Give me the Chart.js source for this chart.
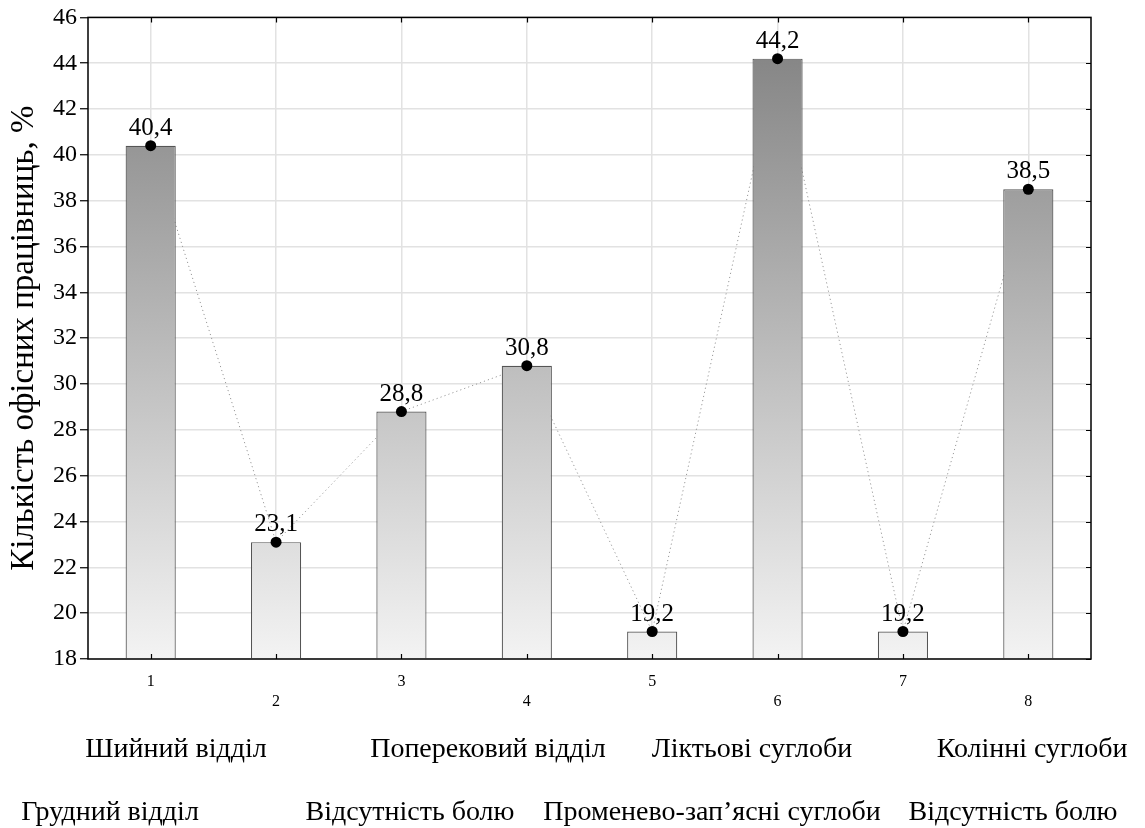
<!DOCTYPE html>
<html>
<head>
<meta charset="utf-8">
<script src="https://cdn.jsdelivr.net/npm/chart.js@4.4.1/dist/chart.umd.min.js"></script>
<style>
html,body{margin:0;padding:0;background:#ffffff;}
#wrap{width:1145px;height:828px;position:relative;}
canvas{display:block;}
</style>
</head>
<body>
<div id="wrap"><canvas id="c" width="1145" height="828"></canvas></div>
<script>
// ---------- data ----------
const categories = [
  'Шийний відділ',
  'Грудний відділ',
  'Поперековий відділ',
  'Відсутність болю',
  'Ліктьові суглоби',
  'Променево-зап’ясні суглоби',
  'Колінні суглоби',
  'Відсутність болю'
];
const tickLabels = ['1', '2', '3', '4', '5', '6', '7', '8'];
const values = [40.4, 23.1, 28.8, 30.8, 19.2, 44.2, 19.2, 38.5];
const valueLabels = ['40,4', '23,1', '28,8', '30,8', '19,2', '44,2', '19,2', '38,5'];
const yMin = 18;
const yMax = 46;
const yStep = 2;
const yTitle = 'Кількість офісних працівниць, %';

// ---------- layout / style ----------
const SERIF = '"Liberation Serif", "Times New Roman", serif';
// centre x of each category caption under the axis (two staggered rows)
const captionLayout = [
  {x: 176, y: 750}, {x: 110, y: 813},
  {x: 488, y: 750}, {x: 410, y: 813},
  {x: 752, y: 750}, {x: 712, y: 813},
  {x: 1032, y: 750}, {x: 1013, y: 813}
];

const framePlugin = {
  id: 'framePlugin',
  afterDatasetsDraw(chart) {
    const ctx = chart.ctx;
    const meta = chart.getDatasetMeta(2);
    ctx.save();
    ctx.fillStyle = '#000';
    ctx.font = '25px ' + SERIF;
    ctx.textAlign = 'center';
    ctx.textBaseline = 'alphabetic';
    meta.data.forEach((pt, i) => {
      ctx.fillText(valueLabels[i], pt.x, pt.y - 11);
    });
    ctx.restore();
  },
  afterDraw(chart) {
    const ctx = chart.ctx;
    const a = chart.chartArea;
    const xs = chart.scales.x;
    const ys = chart.scales.y;
    ctx.save();
    ctx.strokeStyle = '#000';
    ctx.lineWidth = 1.5;
    ctx.strokeRect(a.left, a.top, a.right - a.left, a.bottom - a.top);
    ctx.lineWidth = 1.2;
    ctx.beginPath();
    for (let i = 0; i < tickLabels.length; i++) {
      const px = Math.round(xs.getPixelForValue(i)) + 0.5;
      ctx.moveTo(px, a.bottom); ctx.lineTo(px, a.bottom - 5);
      ctx.moveTo(px, a.top); ctx.lineTo(px, a.top + 5);
    }
    for (let v = yMin; v <= yMax; v += yStep) {
      const py = Math.round(ys.getPixelForValue(v)) + 0.5;
      ctx.moveTo(a.right, py); ctx.lineTo(a.right - 5, py);
    }
    ctx.stroke();
    // captions
    ctx.fillStyle = '#000';
    ctx.font = '28px ' + SERIF;
    ctx.textAlign = 'center';
    ctx.textBaseline = 'middle';
    categories.forEach((t, i) => {
      ctx.fillText(t, captionLayout[i].x, captionLayout[i].y);
    });
    ctx.restore();
  }
};

function barGradient(context) {
  const chart = context.chart;
  const ys = chart.scales.y;
  if (!chart.chartArea || !ys) return '#bbbbbb';
  const g = chart.ctx.createLinearGradient(0, ys.getPixelForValue(yMin), 0, ys.getPixelForValue(yMax));
  g.addColorStop(0, '#f3f3f3');
  g.addColorStop(1, '#7f7f7f');
  return g;
}

new Chart(document.getElementById('c'), {
  type: 'bar',
  data: {
    labels: tickLabels,
    datasets: [
      {
        type: 'line',
        data: values,
        borderColor: '#999999',
        borderWidth: 1,
        borderDash: [1.2, 3],
        pointRadius: 0,
        fill: false,
        tension: 0,
        order: 3
      },
      {
        type: 'bar',
        data: values,
        base: yMin,
        backgroundColor: barGradient,
        borderColor: '#555555',
        borderWidth: 1.2,
        barPercentage: 0.4,
        categoryPercentage: 1.0,
        order: 2
      },
      {
        type: 'line',
        data: values,
        showLine: false,
        pointRadius: 5.5,
        pointHoverRadius: 5.5,
        pointBackgroundColor: '#000',
        pointBorderColor: '#000',
        pointBorderWidth: 0,
        order: 1
      }
    ]
  },
  options: {
    responsive: false,
    animation: false,
    devicePixelRatio: 1,
    layout: { padding: { top: 16, right: 54, left: 0, bottom: 0 } },
    plugins: {
      legend: { display: false },
      tooltip: { enabled: false }
    },
    scales: {
      x: {
        offset: true,
        grid: { offset: false, color: '#e2e2e2', lineWidth: 1.5, drawTicks: false },
        border: { display: false },
        ticks: {
          color: '#000',
          font: { family: SERIF, size: 16, lineHeight: 1.3 },
          padding: 12,
          maxRotation: 0,
          autoSkip: false,
          callback: function (value, index) {
            return index % 2 === 0 ? [tickLabels[index]] : ['', tickLabels[index]];
          }
        },
        afterFit(scale) { scale.height = 169; }
      },
      y: {
        min: yMin,
        max: yMax,
        grid: { color: '#e2e2e2', lineWidth: 1.5, tickColor: '#000', tickLength: 8, tickWidth: 1.2 },
        border: { display: false },
        ticks: {
          stepSize: yStep,
          color: '#000',
          font: { family: SERIF, size: 24 },
          padding: 3
        },
        title: {
          display: true,
          text: yTitle,
          color: '#000',
          font: { family: SERIF, size: 33 },
          padding: { top: 5, bottom: 0 }
        },
        afterFit(scale) { scale.width = 88; }
      }
    }
  },
  plugins: [framePlugin]
});
</script>
</body>
</html>
